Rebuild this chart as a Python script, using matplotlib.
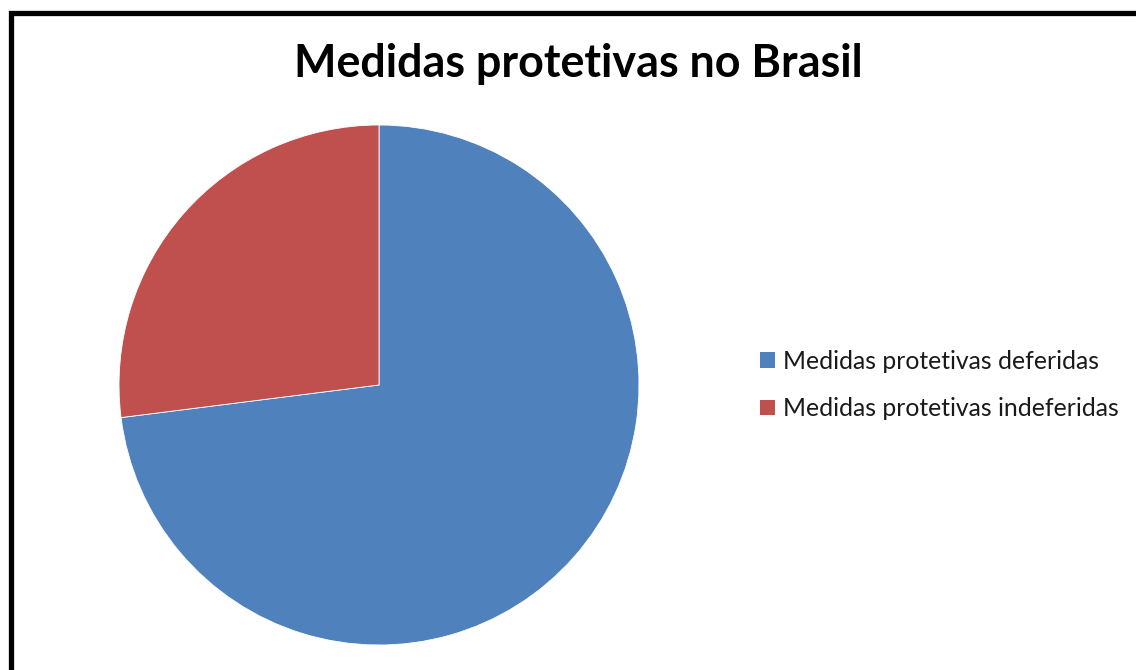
import matplotlib
matplotlib.use("Agg")
import matplotlib.pyplot as plt
from matplotlib.patches import Rectangle, Patch

title = "Medidas protetivas no Brasil"
categories = ["Medidas protetivas deferidas", "Medidas protetivas indeferidas"]
values = [73, 27]
colors = ["#4F81BD", "#C0504D"]

W, H = 1136, 670
fig = plt.figure(figsize=(W / 100, H / 100), dpi=100)
ax = fig.add_axes([0, 0, 1, 1])
ax.set_xlim(0, W)
ax.set_ylim(0, H)
ax.set_aspect("equal")
ax.axis("off")

# Chart frame (extends past right and bottom edges)
ax.add_patch(Rectangle((10.5, -20), W + 40, H - 12.5 + 20, fill=False,
                       edgecolor="black", linewidth=3.8, zorder=5))

ax.pie(values, colors=colors, startangle=90, counterclock=False,
       center=(379, H - 385), radius=260,
       wedgeprops=dict(edgecolor="white", linewidth=0.6))
ax.set_xlim(0, W)
ax.set_ylim(0, H)

ax.text(578, H - 64, title, ha="center", va="center",
        fontsize=32.3, fontweight="bold", family=["Lato", "DejaVu Sans"])

handles = [Patch(facecolor=c, edgecolor="none") for c in colors]
leg = ax.legend(handles, categories, loc="center left",
                bbox_to_anchor=(750 / W, 1 - 385 / H), frameon=False,
                prop=dict(family=["Lato", "DejaVu Sans"], size=17.8),
                handlelength=0.6, handleheight=0.6, handletextpad=0.35,
                labelspacing=1.0, borderaxespad=0)
for t in leg.get_texts():
    t.set_color("#1a1a1a")

fig.savefig("out.png", dpi=100)
